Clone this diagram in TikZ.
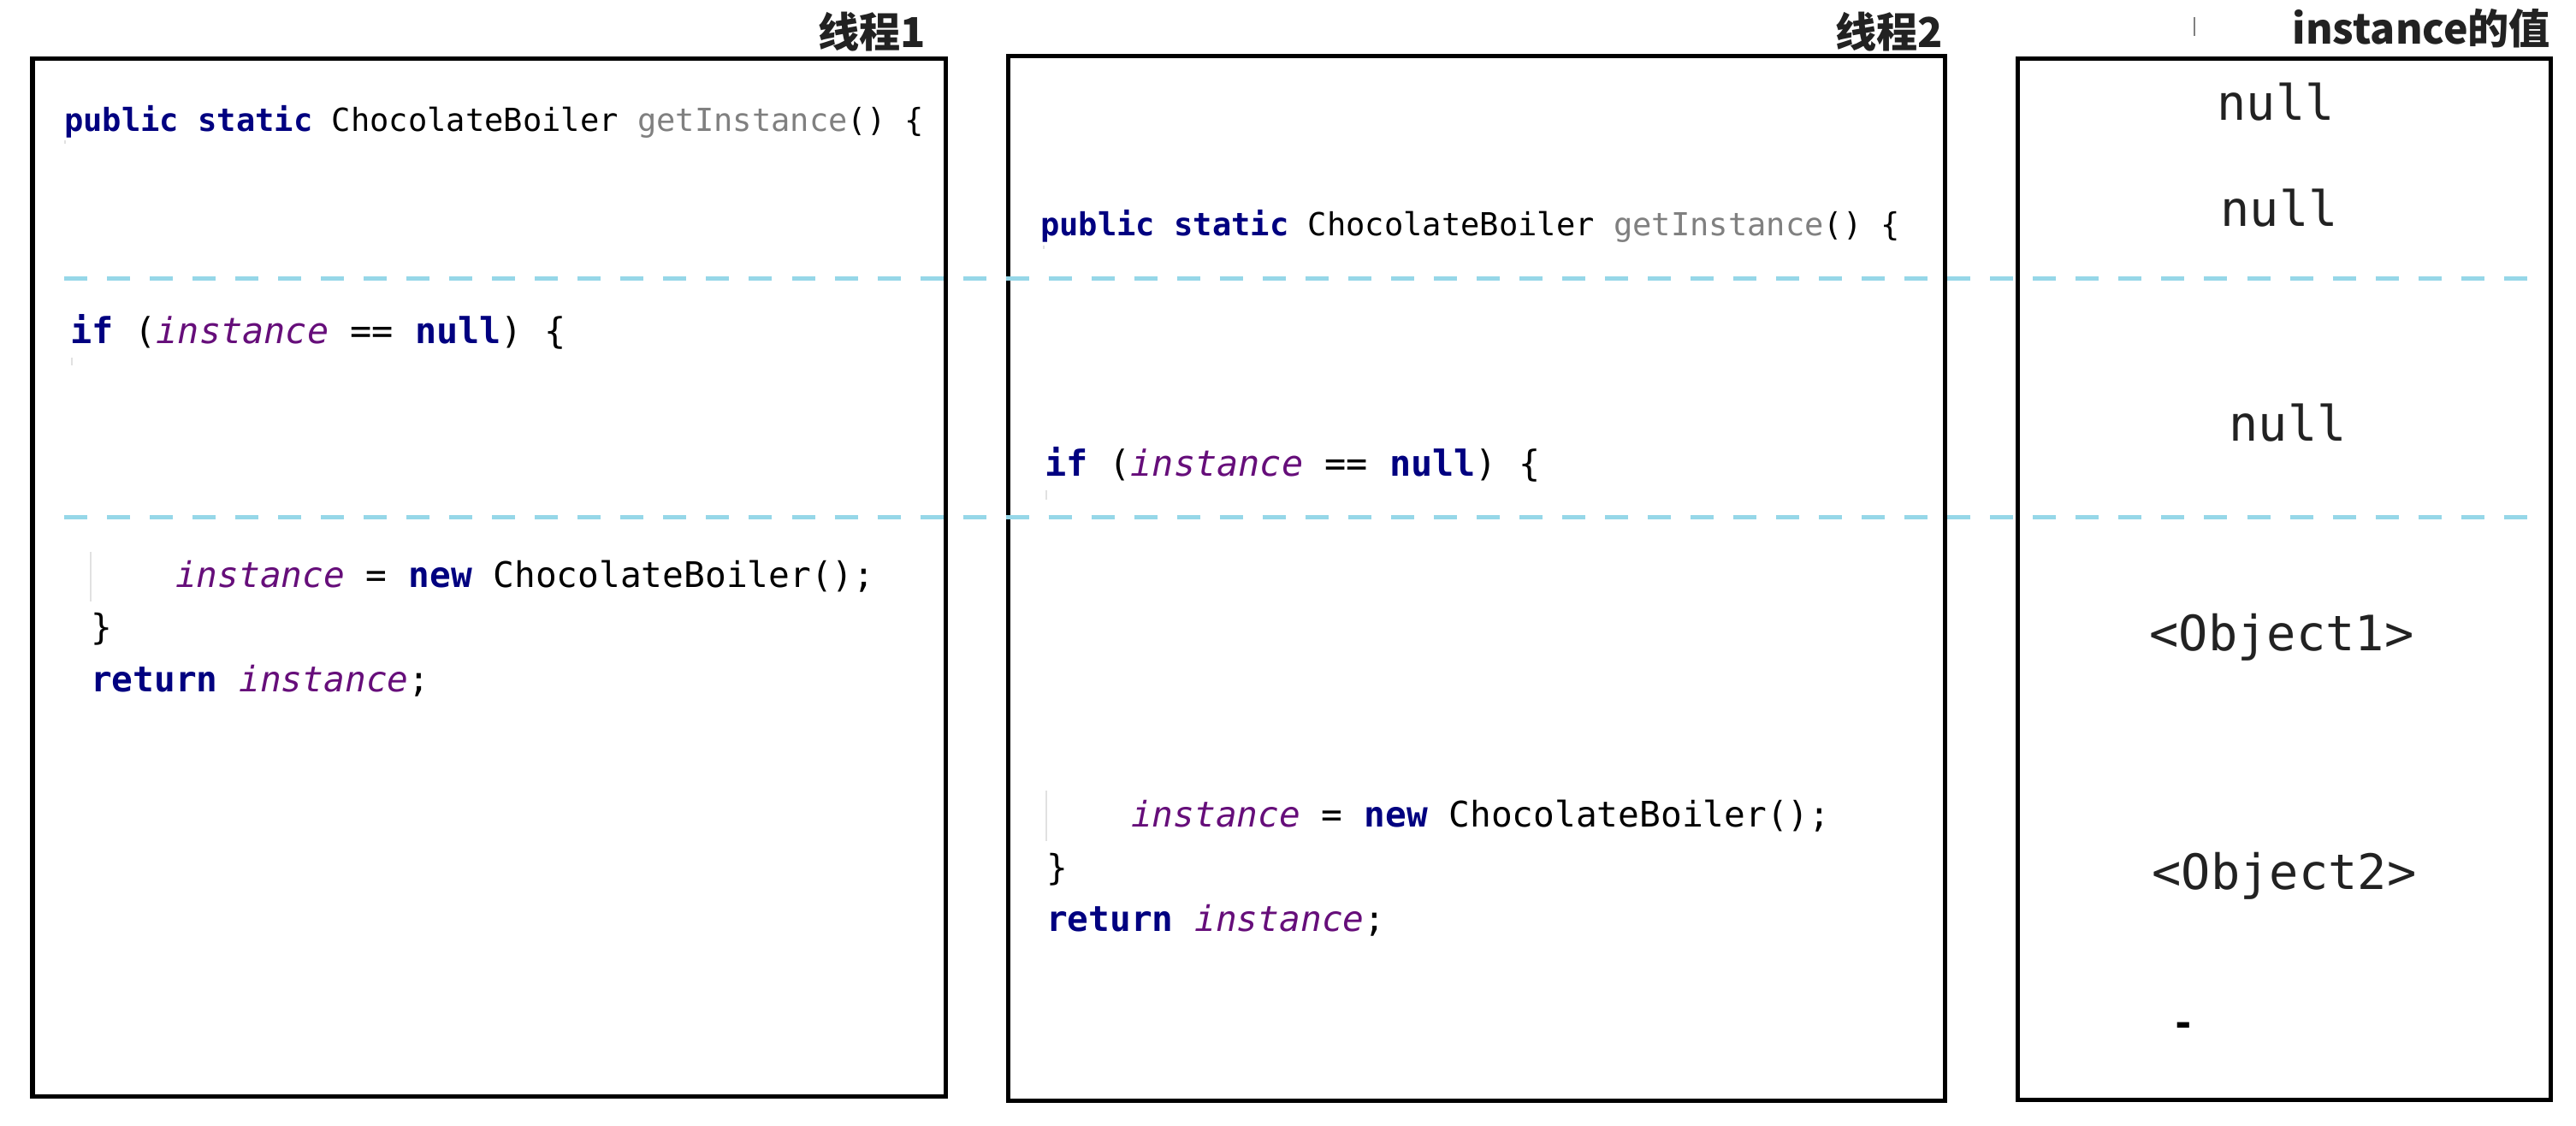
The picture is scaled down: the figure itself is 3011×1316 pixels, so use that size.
\documentclass[tikz,border=0pt]{standalone}
\usepackage{fontspec}
\setmainfont{DejaVu Sans}
\newfontfamily\codefont{DejaVu Sans Mono}
\newfontfamily\cjk{Noto Sans CJK SC}
\definecolor{kwc}{RGB}{0,0,128}
\definecolor{ivc}{RGB}{102,14,122}
\definecolor{gmc}{RGB}{128,128,128}
\definecolor{dashc}{RGB}{150,215,232}
\definecolor{valc}{RGB}{34,34,34}
\definecolor{guidec}{RGB}{225,225,225}
\newcommand{\kw}[1]{{\color{kwc}\bfseries #1}}
\newcommand{\iv}[1]{{\color{ivc}\itshape #1}}
\newcommand{\gm}[1]{{\color{gmc}#1}}
\tikzset{
  frame/.style={draw=black, line width=0.05cm},
  sepline/.style={draw=dashc, line width=0.05cm, dash pattern=on 0.27cm off 0.23cm},
  guide/.style={draw=guidec, line width=0.02cm},
  codeA/.style={inner sep=0, outer sep=0, anchor=base west, font=\codefont\fontsize{10.55pt}{12pt}\selectfont},
  codeB/.style={inner sep=0, outer sep=0, anchor=base west, font=\codefont\fontsize{11.9pt}{14pt}\selectfont},
  codeC/.style={inner sep=0, outer sep=0, anchor=base west, font=\codefont\fontsize{11.7pt}{14pt}\selectfont},
  val/.style={inner sep=0, outer sep=0, anchor=base, text=valc, font=\codefont\fontsize{16.2pt}{19pt}\selectfont},
  title/.style={inner sep=0, outer sep=0, anchor=base east, text=valc, font=\cjk\bfseries\fontsize{13.7pt}{17pt}\selectfont}
}
\begin{document}
\begin{tikzpicture}[x=0.01cm, y=-0.01cm]
\useasboundingbox (0,0) rectangle (3011,1316);

% frames
\draw[frame] (38,69) rectangle (1105,1281);
\draw[frame] (1178,66) rectangle (2273,1286);
\draw[frame] (2358,69) rectangle (2981,1285);

% separators
\coordinate (s1a) at (75,326);
\coordinate (s1b) at (2955,326);
\coordinate (s2a) at (75,605);
\coordinate (s2b) at (2955,605);
\draw[sepline] (s1a) -- (s1b);
\draw[sepline] (s2a) -- (s2b);

% titles
\node[title] (t1) at (1082,56) {线程1};
\node[title] (t2) at (2271,56) {线程2};
\node[title] (t3) at (2981,52) {instance的值};
\draw[draw=gray, line width=0.02cm] (2565,20) -- (2565,42);

% thread 1 code
\node[codeA] (a1) at (75,154) {\kw{public static} ChocolateBoiler \gm{getInstance}() \{};
\node[codeB] (a2) at (82,402) {\kw{if} (\iv{instance} == \kw{null}) \{};
\node[codeC] (a3) at (205,687) {\iv{instance} = \kw{new} ChocolateBoiler();};
\node[codeC] (a4) at (106,748) {\}};
\node[codeC] (a5) at (106,809) {\kw{return} \iv{instance};};
\draw[guide] (106,645) -- (106,703);
\draw[guide] (76,164) -- (76,168);
\draw[guide] (84,418) -- (84,427);

% thread 2 code
\node[codeA] (b1) at (1216,276) {\kw{public static} ChocolateBoiler \gm{getInstance}() \{};
\node[codeB] (b2) at (1221,557) {\kw{if} (\iv{instance} == \kw{null}) \{};
\node[codeC] (b3) at (1322,967) {\iv{instance} = \kw{new} ChocolateBoiler();};
\node[codeC] (b4) at (1223,1028) {\}};
\node[codeC] (b5) at (1223,1088) {\kw{return} \iv{instance};};
\draw[guide] (1223,924) -- (1223,983);
\draw[guide] (1220,287) -- (1220,291);
\draw[guide] (1223,573) -- (1223,584);

% instance values
\node[val] (v1) at (2660,141) {null};
\node[val] (v2) at (2664,265) {null};
\node[val] (v3) at (2674,516) {null};
\node[val] (v4) at (2667,761) {<Object1>};
\node[val] (v5) at (2670,1040) {<Object2>};
\node[inner sep=0, outer sep=0, text=black, font=\codefont\bfseries\fontsize{13pt}{15pt}\selectfont] (v6) at (2552,1203) {-};
\end{tikzpicture}
\end{document}
